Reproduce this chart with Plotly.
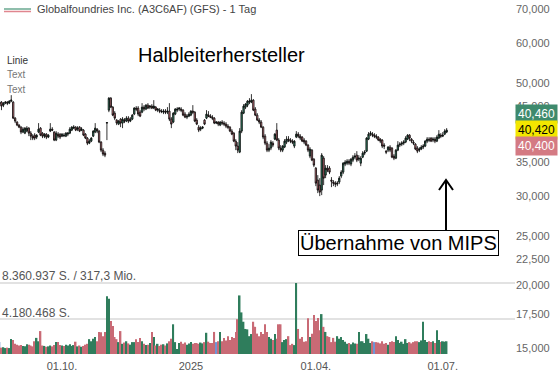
import math
import pandas as pd
import plotly.graph_objects as go

# ---------------- data ----------------
dates = pd.bdate_range("2024-08-16", periods=230)

opens = [45.49,45.90,45.28,45.69,45.90,45.69,46.11,45.90,42.68,41.92,41.35,40.97,40.06,39.87,40.24,40.79,39.87,39.33,39.51,39.16,
         40.06,40.79,39.87,39.33,39.69,39.16,40.24,40.60,40.06,38.63,39.69,39.69,39.33,39.51,39.33,39.69,39.87,40.42,40.79,40.97,
         40.60,40.97,40.42,40.42,39.69,38.98,38.10,38.45,39.33,40.06,40.60,40.24,38.28,36.91,36.41,41.73,44.26,46.74,44.87,43.66,
         42.30,41.54,42.49,41.73,42.30,42.11,42.68,42.11,42.49,43.47,44.67,44.67,43.86,43.86,44.87,44.47,45.28,44.87,45.08,44.67,
         44.87,44.26,44.26,44.06,43.86,44.06,43.86,44.06,42.49,41.92,43.47,44.26,44.47,44.47,44.26,43.47,42.88,43.07,43.27,44.06,
         43.86,42.30,40.97,40.60,40.79,42.30,42.68,43.27,43.07,42.88,42.68,41.73,41.92,41.35,41.92,41.73,41.54,41.16,40.97,40.24,
         39.87,38.45,37.59,36.58,40.24,43.66,44.87,45.28,45.90,45.90,46.32,44.47,43.27,42.30,41.92,40.97,39.33,38.10,36.91,37.25,
         38.10,38.80,40.42,38.63,37.25,36.91,37.42,38.28,38.80,38.63,38.45,37.59,39.16,39.69,39.33,39.16,38.63,38.45,37.76,35.92,
         36.91,35.43,34.01,32.21,31.49,30.78,35.59,32.95,34.01,34.01,32.21,31.92,31.77,31.63,31.92,32.80,33.40,34.64,34.79,35.11,
         34.64,35.27,35.75,36.08,35.43,34.79,35.75,36.41,36.74,38.80,39.69,39.69,39.51,39.33,39.16,38.80,38.63,37.76,36.74,36.91,
         37.42,37.25,35.92,35.59,36.91,37.76,37.93,38.10,38.28,38.80,39.51,38.80,38.28,37.93,37.25,36.91,37.08,37.42,37.59,38.45,
         38.80,38.98,38.63,38.80,38.45,38.98,39.51,39.33,39.69,40.06]
closes = [45.90,45.08,45.69,45.90,45.69,46.11,46.32,42.68,42.11,41.35,40.97,40.06,40.60,40.79,40.79,39.87,39.33,38.98,38.98,39.51,
          40.60,39.51,39.33,39.69,39.16,39.51,40.60,40.42,38.63,39.87,39.33,39.16,39.69,39.42,39.87,39.87,40.60,40.97,40.97,40.42,
          40.79,40.24,40.60,39.51,38.98,38.10,38.45,38.98,40.24,40.79,40.24,38.28,36.91,36.25,36.08,41.82,46.74,44.87,43.27,42.68,
          41.73,42.11,41.73,42.49,42.11,42.68,42.11,42.49,43.27,44.67,44.47,43.47,43.07,44.87,44.47,45.28,44.67,45.08,44.67,45.08,
          44.26,44.47,44.06,43.96,44.06,43.86,44.06,42.49,41.54,43.66,44.47,44.47,44.67,44.26,43.27,42.88,43.07,43.47,44.06,43.86,
          42.11,41.54,40.42,40.79,40.97,41.54,43.47,43.07,42.88,42.68,41.73,41.92,41.54,41.92,41.73,41.54,41.16,40.97,40.24,39.69,
          38.45,37.59,36.91,40.24,43.86,45.08,45.49,46.11,46.11,46.32,44.26,43.27,42.30,41.92,40.97,39.16,38.10,36.91,37.25,38.28,
          37.76,39.69,38.63,37.25,36.91,37.59,38.45,38.80,38.63,38.45,38.28,38.45,39.69,39.33,38.98,38.45,38.28,37.76,36.91,37.08,
          35.27,34.48,31.77,30.78,30.50,36.08,32.50,34.01,33.70,33.40,32.06,31.77,31.63,31.77,32.50,33.40,34.79,34.95,35.11,34.79,
          35.43,35.75,35.92,35.27,35.59,35.59,36.41,36.58,38.98,39.69,39.87,39.51,39.33,39.16,38.63,38.45,37.59,37.59,36.58,37.42,
          36.91,35.75,35.59,36.91,37.76,37.93,38.10,38.28,38.98,39.51,38.98,38.45,38.10,37.08,36.74,37.08,37.42,37.59,38.45,38.80,
          38.63,38.45,38.80,38.45,39.16,39.69,39.33,39.51,40.24,40.42]
highs = [46.32,46.11,45.90,46.11,46.11,46.32,47.38,46.11,42.88,42.11,41.54,41.16,40.97,40.97,41.16,40.97,40.24,39.69,39.87,39.69,
         41.73,40.97,40.06,39.87,39.87,39.69,41.73,40.97,40.24,40.24,40.06,39.87,39.87,39.87,40.06,40.06,40.97,41.16,41.35,41.16,
         41.16,41.16,40.97,40.60,39.87,39.16,38.80,39.16,40.42,41.73,40.79,40.42,38.45,37.25,36.74,41.92,46.96,46.96,45.08,44.06,
         42.49,42.30,42.68,42.88,42.68,43.07,43.07,42.88,43.47,44.87,45.08,45.08,44.26,45.69,45.28,45.49,45.69,45.28,45.49,46.32,
         45.08,44.67,44.67,44.47,44.47,44.47,44.87,45.69,42.88,43.86,44.67,44.87,44.87,44.87,44.47,43.86,43.47,43.86,44.26,45.28,
         44.06,42.68,41.35,41.16,41.16,42.49,44.26,44.06,43.47,43.27,42.88,42.11,42.11,42.11,42.30,42.11,41.92,41.54,41.16,40.60,
         40.06,38.80,38.28,40.79,44.26,45.49,45.69,46.32,46.74,47.60,46.53,44.87,43.66,42.68,42.30,41.16,39.69,38.45,37.93,38.63,
         38.45,39.87,41.73,38.98,37.76,37.76,38.80,39.33,39.33,38.98,38.80,38.63,40.24,40.06,39.69,39.33,38.98,38.63,37.93,37.42,
         37.08,35.59,34.17,32.95,32.50,36.41,35.92,34.48,34.48,34.32,32.65,32.21,32.06,32.06,32.80,33.70,34.95,35.27,35.43,35.43,
         35.59,36.08,36.41,36.74,36.08,35.92,36.74,36.91,39.16,40.06,40.24,40.06,39.87,39.69,39.33,38.98,38.80,38.10,36.91,37.59,
         37.76,37.42,36.25,37.08,38.45,38.28,38.45,38.63,39.33,39.69,39.69,38.98,38.63,38.10,37.59,37.42,37.76,37.93,38.63,39.16,
         39.16,39.16,39.16,39.16,39.51,40.42,39.87,40.06,40.60,40.79]
lows = [45.08,44.26,44.87,45.49,45.28,45.49,45.90,42.49,41.73,41.16,40.79,39.69,39.87,39.69,40.06,39.33,38.63,38.63,38.63,38.80,
        39.87,39.33,38.98,38.98,38.80,38.98,40.06,40.24,38.45,38.45,38.98,38.80,39.16,39.16,39.16,39.33,39.69,40.24,40.60,40.24,
        40.24,40.06,40.24,39.33,38.80,37.76,37.93,38.28,39.16,39.87,39.87,38.10,36.58,35.92,35.75,38.63,43.86,44.67,43.07,42.30,
        41.35,41.35,40.97,40.79,41.73,41.92,41.73,41.92,42.30,43.27,44.06,43.07,42.88,43.66,44.06,44.26,44.47,44.47,44.47,44.47,
        44.06,43.86,43.66,43.66,43.47,43.47,43.47,42.11,40.79,41.73,43.27,43.86,44.06,43.86,43.07,42.68,42.49,42.88,43.07,43.47,
        41.92,41.35,40.06,40.24,40.60,41.35,42.49,42.88,42.68,42.30,41.54,41.54,41.16,41.16,41.35,41.16,40.79,40.60,40.06,39.51,
        38.28,36.91,36.41,36.41,39.87,43.47,44.47,44.87,45.49,45.69,44.06,43.07,42.11,41.54,40.79,38.80,37.76,36.58,36.58,36.91,
        37.42,38.63,38.45,36.91,36.58,36.58,37.25,37.93,38.28,38.10,37.93,37.25,38.98,38.98,38.63,38.28,37.93,37.59,36.58,35.59,
        35.11,34.17,31.34,30.36,29.95,30.09,31.49,32.50,33.40,33.10,31.20,31.34,31.20,31.34,31.63,32.50,33.10,34.32,34.48,34.48,
        34.32,34.95,35.43,34.95,35.11,34.32,35.59,36.08,36.58,38.63,39.33,39.16,38.98,38.80,38.45,38.10,37.25,37.08,36.25,36.58,
        36.58,35.59,35.27,35.43,36.74,37.42,37.59,37.76,38.10,38.63,38.45,38.10,37.76,36.91,36.41,36.58,36.91,37.08,37.42,38.10,
        38.28,38.28,38.28,38.10,38.28,38.80,38.98,39.16,39.51,39.87]
# volume in millions of shares
volumes = [1.41,0.75,0.80,0.70,0.75,0.70,1.77,1.65,1.20,1.10,1.00,1.05,0.95,0.90,1.15,1.10,1.00,0.90,1.50,1.90,
           1.50,2.70,1.00,0.95,0.85,0.90,1.00,0.90,1.05,1.40,1.40,1.05,1.00,0.95,1.10,1.00,1.15,0.95,1.05,1.45,
           0.90,1.00,0.85,0.95,1.10,1.20,1.75,1.50,1.80,2.00,1.50,2.60,2.55,2.10,2.60,6.80,6.50,3.90,3.30,2.00,
           1.75,1.40,2.70,1.20,1.35,1.50,1.25,1.10,1.40,1.40,1.75,1.40,1.90,1.50,1.20,1.05,1.10,1.30,2.60,2.00,
           1.00,1.20,0.95,1.10,1.15,1.00,1.25,1.50,1.80,3.50,1.40,0.60,1.30,1.45,1.20,1.35,1.10,1.25,1.40,1.20,
           1.30,1.30,1.20,1.35,1.25,1.40,2.50,1.45,1.30,1.30,2.60,1.40,1.50,2.60,1.50,1.90,1.60,2.10,1.65,2.00,
           1.90,2.60,4.10,6.90,4.90,3.80,2.95,2.90,2.10,2.35,3.80,3.20,2.40,2.10,2.60,2.35,3.50,2.60,2.00,1.80,
           1.65,2.35,1.80,3.50,3.50,1.40,1.65,1.75,2.10,1.05,1.20,1.05,8.360937,2.95,1.80,2.00,1.45,1.50,4.20,2.00,
           2.40,4.60,3.90,4.25,2.80,4.70,3.20,2.60,2.10,2.00,1.40,1.90,1.45,2.10,1.80,2.00,1.65,1.45,1.20,1.30,
           1.15,1.35,1.25,1.20,2.60,1.50,1.50,1.30,2.35,1.80,1.30,1.50,1.40,1.40,1.35,1.25,1.50,1.20,1.30,1.10,
           1.40,1.50,1.40,2.10,1.65,1.30,1.45,1.20,1.75,1.30,1.40,1.25,1.40,1.50,1.50,1.40,1.60,3.80,1.65,1.40,
           1.50,1.40,1.50,1.30,2.80,1.65,1.40,1.50,1.45,1.50]
blue_days = [0, 111, 192]

price_ticks = [15, 17.5, 20, 22.5, 25, 30, 35, 45, 50, 60, 70]
price_tick_text = ["15,000", "17,500", "20,000", "22,500", "25,000", "30,000", "35,000",
                   "45,000", "50,000", "60,000", "70,000"]
date_ticks = ["2024-10-01", "2025-01-01", "2025-04-01", "2025-07-01"]
date_tick_text = ["01.10.", "2025", "01.04.", "01.07."]
vol_levels = [4.180468, 8.360937]
badges = [("40,460", "#3e8a6d", "white", 16), ("40,420", "#f3e600", "black", 0), ("40,400", "#d47a83", "white", -16)]
last_price = 40.42

# ---------------- figure ----------------
W, H = 559, 374
ML, MR, MT, MB = 0, 44, 0, 16
PW, PH = W - ML - MR, H - MT - MB

def px(x):
    return x / PW

def py(y):
    return 1 - y / PH

idx = list(range(len(dates)))
GREEN, RED, BLUE = "#2f7d5c", "#c96a75", "#6f94d6"
vol_colors = [GREEN if c >= o else RED for o, c in zip(opens, closes)]
for b in blue_days:
    vol_colors[b] = BLUE

fig = go.Figure()
fig.add_trace(go.Bar(x=idx, y=volumes, yaxis="y2", marker=dict(color=vol_colors, line=dict(width=0)),
                     showlegend=False, hoverinfo="skip"))
fig.add_trace(go.Candlestick(
    x=idx, open=opens, high=highs, low=lows, close=closes,
    increasing=dict(line=dict(color="black", width=0.8), fillcolor="#3b9172"),
    decreasing=dict(line=dict(color="black", width=0.8), fillcolor="#e07f89"),
    whiskerwidth=0, showlegend=False))

tick_idx = [list(dates).index(pd.Timestamp(d)) for d in date_ticks]

fig.update_layout(
    width=W, height=H, margin=dict(l=ML, r=MR, t=MT, b=MB),
    paper_bgcolor="white", plot_bgcolor="white",
    font=dict(family="Liberation Sans, Arial", size=11, color="#555"),
    bargap=0.2, boxgap=0.0, showlegend=False,
    xaxis=dict(range=[0.24, 264.0], tickvals=tick_idx, ticktext=date_tick_text, showgrid=False,
               zeroline=False, showline=False, ticks="", rangeslider=dict(visible=False),
               tickfont=dict(size=11, color="#555")),
    yaxis=dict(type="log", side="right", range=[1.1571, 1.8633], tickvals=price_ticks,
               ticktext=price_tick_text, showgrid=False, zeroline=False, ticks="",
               tickfont=dict(size=11, color="#666")),
    yaxis2=dict(overlaying="y", range=[-0.47, 41.69], tickvals=vol_levels, showticklabels=False,
                showgrid=True, gridcolor="#e2e2e2", gridwidth=1.5, zeroline=False, ticks=""),
)

ann = []
# legend header
ann.append(dict(x=px(35), y=py(9), xref="paper", yref="paper", xanchor="left", yanchor="middle",
                text="Globalfoundries Inc. (A3C6AF) (GFS) - 1 Tag", showarrow=False,
                font=dict(size=11, color="#444")))
for t, yy, col in [("Linie", 61, "#333"), ("Text", 75, "#777"), ("Text", 89, "#777")]:
    ann.append(dict(x=px(5), y=py(yy), xref="paper", yref="paper", xanchor="left", yanchor="middle",
                    text=t, showarrow=False, font=dict(size=10, color=col)))
ann.append(dict(x=px(221), y=py(55), xref="paper", yref="paper", xanchor="center", yanchor="middle",
                text="Halbleiterhersteller", showarrow=False, font=dict(size=20, color="black")))
ann.append(dict(x=px(398.5), y=py(243), xref="paper", yref="paper", xanchor="center", yanchor="middle",
                text="Übernahme von MIPS", showarrow=False, font=dict(size=20, color="black"),
                bordercolor="black", borderwidth=1, borderpad=1, bgcolor="white"))
# volume labels
ann.append(dict(x=0, y=py(276), xref="paper", yref="paper", xanchor="left", yanchor="middle",
                text="8.360.937 S. / 317,3 Mio.", showarrow=False, font=dict(size=12, color="#555")))
ann.append(dict(x=0, y=py(313), xref="paper", yref="paper", xanchor="left", yanchor="middle",
                text="4.180.468 S.", showarrow=False, font=dict(size=12, color="#555")))
# price badges
for txt, bg, fc, shift in badges:
    ann.append(dict(x=1, y=math.log10(last_price), xref="paper", yref="y", xanchor="left", yanchor="middle",
                    yshift=shift, text=txt, showarrow=False, bgcolor=bg, borderpad=2,
                    font=dict(size=12, color=fc)))
fig.update_layout(annotations=ann)

shapes = [
    dict(type="line", xref="paper", yref="paper", x0=px(4), x1=px(31), y0=py(9), y1=py(9),
         line=dict(color="#6aa991", width=1.5)),
    dict(type="line", xref="paper", yref="paper", x0=px(4), x1=px(31), y0=py(11.5), y1=py(11.5),
         line=dict(color="#e0868f", width=1.5)),
    dict(type="line", xref="paper", yref="paper", x0=px(446), x1=px(446), y0=py(230), y1=py(180),
         line=dict(color="black", width=2)),
    dict(type="path", xref="paper", yref="paper",
         path=f"M {px(439)} {py(190)} L {px(446)} {py(180)} L {px(453)} {py(190)}",
         line=dict(color="black", width=2)),
]
fig.update_layout(shapes=shapes)

fig.write_html("out.html")
